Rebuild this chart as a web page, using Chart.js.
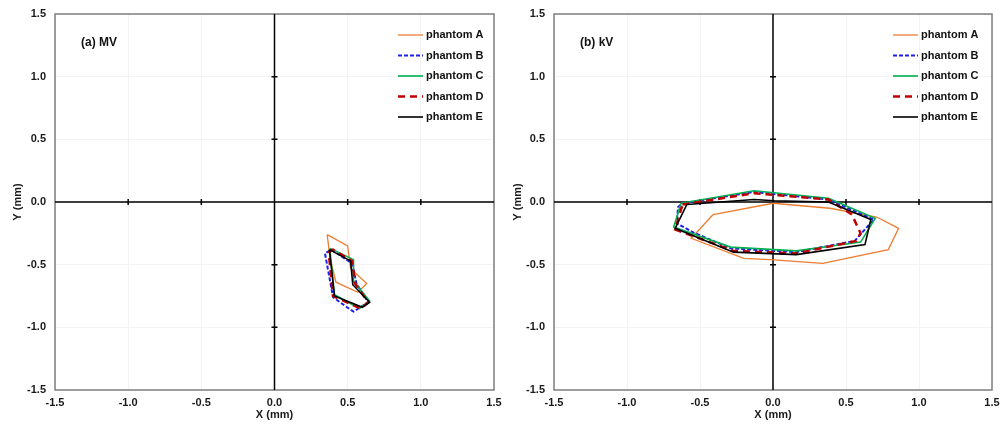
<!DOCTYPE html>
<html>
<head>
<meta charset="utf-8">
<script src="https://cdn.jsdelivr.net/npm/chart.js@4.4.0/dist/chart.umd.min.js"></script>
<style>
  html, body { margin: 0; padding: 0; background: #fff; }
  #wrap { position: relative; width: 1003px; height: 426px; }
  .panel { position: absolute; top: 0; height: 426px; }
  #left  { left: 0;     width: 512px; }
  #right { left: 500px; width: 503px; }
</style>
</head>
<body>
<div id="wrap">
  <div class="panel" id="left"><canvas id="chart-mv"></canvas></div>
  <div class="panel" id="right"><canvas id="chart-kv"></canvas></div>
</div>
<script>
const SERIES_NAMES = ['phantom A', 'phantom B', 'phantom C', 'phantom D', 'phantom E'];
const TICK_VALUES  = [-1.5, -1.0, -0.5, 0.0, 0.5, 1.0, 1.5];

// (a) MV
const mvAx = [0.36, 0.50, 0.52, 0.63, 0.57, 0.42, 0.38, 0.36];
const mvAy = [-0.26, -0.35, -0.53, -0.65, -0.72, -0.64, -0.45, -0.26];
const mvBx = [0.39, 0.53, 0.56, 0.64, 0.54, 0.52, 0.40, 0.345, 0.39];
const mvBy = [-0.38, -0.49, -0.65, -0.80, -0.875, -0.86, -0.76, -0.41, -0.38];
const mvCx = [0.38, 0.54, 0.54, 0.65, 0.58, 0.41, 0.38, 0.38];
const mvCy = [-0.37, -0.46, -0.63, -0.79, -0.85, -0.74, -0.40, -0.37];
const mvDx = [0.37, 0.40, 0.53, 0.54, 0.55, 0.64, 0.59, 0.40, 0.37];
const mvDy = [-0.40, -0.38, -0.47, -0.55, -0.65, -0.80, -0.85, -0.75, -0.40];
const mvEx = [0.375, 0.52, 0.535, 0.65, 0.60, 0.41, 0.375];
const mvEy = [-0.38, -0.47, -0.66, -0.80, -0.84, -0.75, -0.38];

// (b) kV
const kvAx = [-0.41, 0.00, 0.39, 0.71, 0.86, 0.79, 0.34, -0.02, -0.20, -0.56, -0.41];
const kvAy = [-0.10, -0.01, -0.05, -0.12, -0.21, -0.38, -0.49, -0.46, -0.45, -0.29, -0.10];
const kvBx = [-0.62, -0.13, 0.38, 0.69, 0.56, 0.16, -0.29, -0.55, -0.66, -0.65, -0.62];
const kvBy = [-0.01, 0.08, 0.02, -0.14, -0.31, -0.40, -0.37, -0.24, -0.17, -0.04, -0.01];
const kvCx = [-0.63, -0.13, 0.38, 0.70, 0.60, 0.16, -0.29, -0.68, -0.63];
const kvCy = [-0.01, 0.09, 0.03, -0.13, -0.32, -0.39, -0.36, -0.20, -0.01];
const kvDx = [-0.62, -0.13, 0.38, 0.54, 0.60, 0.57, 0.16, -0.27, -0.67, -0.62];
const kvDy = [-0.02, 0.07, 0.02, -0.10, -0.25, -0.31, -0.41, -0.39, -0.22, -0.02];
const kvEx = [-0.59, -0.13, 0.01, 0.38, 0.67, 0.63, 0.16, -0.27, -0.67, -0.59];
const kvEy = [-0.02, 0.02, 0.01, 0.00, -0.14, -0.34, -0.42, -0.40, -0.21, -0.02];

const STYLES = [
  { color: '#ED7D31', width: 1.3, dash: [] },
  { color: '#1F1FE8', width: 2,   dash: [4, 2] },
  { color: '#00B050', width: 1.6, dash: [] },
  { color: '#C00000', width: 2.5, dash: [7, 5] },
  { color: '#000000', width: 1.6, dash: [] },
];

const FONT = "'Liberation Sans', Arial, sans-serif";

function toPoints(xs, ys) {
  return xs.map((x, i) => ({ x, y: ys[i] }));
}

function buildDatasets(series) {
  return series.map(([xs, ys], i) => ({
    label: SERIES_NAMES[i],
    data: toPoints(xs, ys),
    showLine: true,
    borderColor: STYLES[i].color,
    borderWidth: STYLES[i].width,
    borderDash: STYLES[i].dash,
    pointRadius: 0,
    fill: false,
    tension: 0,
    order: 5 - i,
  }));
}

// frame, zero axes with cross ticks, panel label and legend
const decorPlugin = {
  id: 'decor',
  beforeDatasetsDraw(chart, args, opts) {
    const { ctx, chartArea: a, scales: { x, y } } = chart;
    ctx.save();
    ctx.strokeStyle = '#7f7f7f';
    ctx.lineWidth = 1.5;
    ctx.strokeRect(a.left, a.top, a.right - a.left, a.bottom - a.top);

    const x0 = x.getPixelForValue(0);
    const y0 = y.getPixelForValue(0);
    ctx.strokeStyle = '#000';
    ctx.lineWidth = 1.5;
    ctx.beginPath();
    ctx.moveTo(a.left, y0); ctx.lineTo(a.right, y0);
    ctx.moveTo(x0, a.top);  ctx.lineTo(x0, a.bottom);
    TICK_VALUES.forEach(v => {
      if (v === 0 || Math.abs(v) === 1.5) return;
      const px = x.getPixelForValue(v);
      ctx.moveTo(px, y0 - 3); ctx.lineTo(px, y0 + 3);
      const py = y.getPixelForValue(v);
      ctx.moveTo(x0 - 3, py); ctx.lineTo(x0 + 3, py);
    });
    ctx.stroke();
    ctx.restore();
  },
  afterDraw(chart, args, opts) {
    const { ctx, chartArea: a } = chart;
    ctx.save();
    ctx.fillStyle = '#111';
    ctx.font = `bold 12px ${FONT}`;
    ctx.textBaseline = 'middle';
    ctx.fillText(opts.label, a.left + 26, a.top + 29);

    ctx.font = `bold 11px ${FONT}`;
    chart.data.datasets.forEach((ds, i) => {
      const yy = a.top + 21 + i * 20.5;
      const lx = a.right - opts.legendOffset;
      ctx.strokeStyle = ds.borderColor;
      ctx.lineWidth = ds.borderWidth;
      ctx.setLineDash(ds.borderDash);
      ctx.beginPath();
      ctx.moveTo(lx, yy); ctx.lineTo(lx + 25, yy);
      ctx.stroke();
      ctx.setLineDash([]);
      ctx.fillStyle = '#111';
      ctx.fillText(ds.label, lx + 28, yy);
    });
    ctx.restore();
  }
};

function axis(title, fitSize, horizontal) {
  return {
    type: 'linear',
    min: -1.5,
    max: 1.5,
    ticks: {
      stepSize: 0.5,
      padding: horizontal ? 6 : 9,
      color: '#1a1a1a',
      font: { family: FONT, size: 11, weight: 'bold' },
      callback: (v) => v.toFixed(1),
    },
    grid: { color: '#f3f3f3', drawTicks: false },
    border: { display: false },
    title: {
      display: true,
      text: title,
      color: '#1a1a1a',
      font: { family: FONT, size: 11, weight: 'bold' },
      padding: horizontal ? { top: 2, bottom: 4 } : { top: 11, bottom: 0 },
    },
    afterFit: (scale) => {
      if (horizontal) {
        scale.height = fitSize;
        scale.paddingLeft = 0;
        scale.paddingRight = 0;
      } else {
        scale.width = fitSize;
        scale.paddingTop = 0;
        scale.paddingBottom = 0;
      }
    },
  };
}

function buildChart(id, series, label, yWidth, padRight, legendOffset) {
  const ctx = document.getElementById(id).getContext('2d');
  return new Chart(ctx, {
    type: 'scatter',
    data: { datasets: buildDatasets(series) },
    options: {
      responsive: true,
      maintainAspectRatio: false,
      animation: false,
      layout: { padding: { top: 14, right: padRight, left: 0, bottom: 0 } },
      plugins: {
        legend: { display: false },
        tooltip: { enabled: false },
        decor: { label, legendOffset },
      },
      scales: {
        x: axis('X (mm)', 36, true),
        y: axis('Y (mm)', yWidth, false),
      }
    },
    plugins: [decorPlugin],
  });
}

buildChart('chart-mv', [
  [mvAx, mvAy], [mvBx, mvBy], [mvCx, mvCy], [mvDx, mvDy], [mvEx, mvEy]
], '(a) MV', 55, 18, 96);

buildChart('chart-kv', [
  [kvAx, kvAy], [kvBx, kvBy], [kvCx, kvCy], [kvDx, kvDy], [kvEx, kvEy]
], '(b) kV', 54, 11, 99);
</script>
</body>
</html>
